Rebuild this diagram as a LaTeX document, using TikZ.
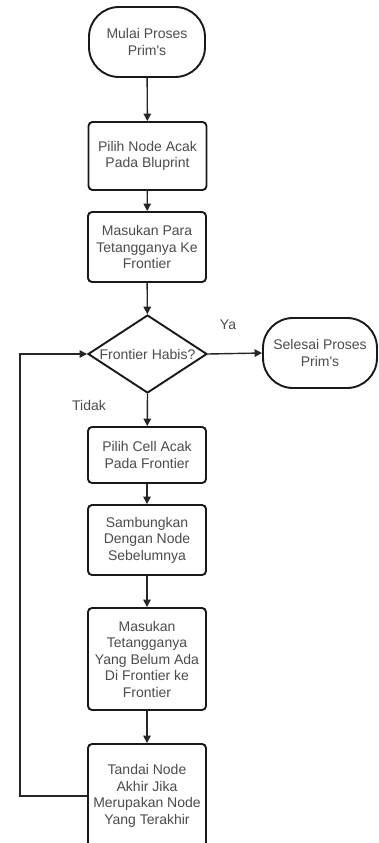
\documentclass[tikz,border=0pt]{standalone}
\usepackage{fontspec}
\setmainfont{Liberation Sans}[Ligatures=TeXOff]
\usetikzlibrary{shapes.geometric,arrows.meta}
\begin{document}
\begin{tikzpicture}[x=1pt,y=-1pt,
  every node/.style={font=\fontsize{14}{16.5}\selectfont, text=black!70, align=center, inner sep=0pt},
  procbox/.style={draw=black!90, line width=1.9pt, rounded corners=4pt, minimum width=118pt},
  termbox/.style={draw=black!90, line width=1.9pt, rounded corners=30pt, minimum width=116pt, minimum height=70pt},
  decision/.style={diamond, draw=black!90, line width=1.9pt, aspect=1.53, minimum width=119pt, minimum height=78pt},
  flow/.style={draw=black!85, line width=1.4pt, -{Triangle[length=7.5pt,width=7.5pt]}},
  lbl/.style={font=\fontsize{14}{16.5}\selectfont, text=black!70}
]
  \clip (0,0) rectangle (378,843);
  \fill[white] (0,0) rectangle (378,843);

  % main column
  \node[termbox]  (start) at (147,42)  {Mulai Proses\\Prim's};
  \node[procbox, minimum height=68pt]  (b1) at (147.5,156) {Pilih Node Acak\\Pada Bluprint};
  \node[procbox, minimum height=70pt]  (b2) at (147,247) {Masukan Para\\Tetangganya Ke\\Frontier};
  \node[decision] (dec) at (147.5,354) {Frontier Habis?};
  \node[termbox, minimum width=114pt] (stop) at (320,353) {Selesai Proses\\Prim's};
  \node[procbox, minimum height=56pt]  (b3) at (147,455) {Pilih Cell Acak\\Pada Frontier};
  \node[procbox, minimum height=70pt]  (b4) at (147,540) {Sambungkan\\Dengan Node\\Sebelumnya};
  \node[procbox, minimum height=102pt] (b5) at (147,659) {Masukan\\Tetangganya\\Yang Belum Ada\\Di Frontier ke\\Frontier};
  \node[procbox, minimum height=104pt] (b6) at (147,796) {Tandai Node\\Akhir Jika\\Merupakan Node\\Yang Terakhir};

  % branch labels
  \node[lbl] (ya) at (228,325) {Ya};
  \node[lbl] (tidak) at (89,405) {Tidak};

  % connectors
  \draw[flow] (start) -- (b1);
  \draw[flow] (b1) -- (b2);
  \draw[flow] (b2) -- (dec);
  \draw[flow] (dec.east) -- (stop.west);
  \draw[flow] (dec.south) -- (b3);
  \draw[flow] (b3) -- (b4);
  \draw[flow] (b4) -- (b5);
  \draw[flow] (b5) -- (b6);
  \coordinate (loop) at (20,796);
  \draw[flow] (b6.west) -- (loop) |- (dec.west);
\end{tikzpicture}
\end{document}
